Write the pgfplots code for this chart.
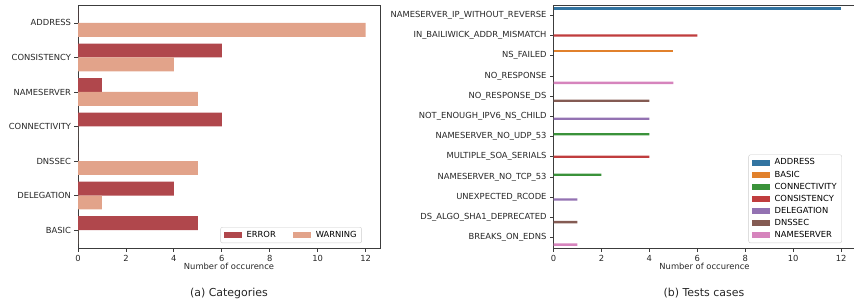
\documentclass[border=0pt]{standalone}
\usepackage{pgfplots}
\pgfplotsset{compat=1.18}
\usepackage{fontspec}
\setmainfont{DejaVu Sans}
\definecolor{errc}{RGB}{176,71,76}
\definecolor{warnc}{RGB}{226,163,138}
\definecolor{cA}{HTML}{3274A1}
\definecolor{cB}{HTML}{E1812C}
\definecolor{cC}{HTML}{3A923A}
\definecolor{cD}{HTML}{C03D3E}
\definecolor{cE}{HTML}{9372B2}
\definecolor{cF}{HTML}{845B53}
\definecolor{cG}{HTML}{D684BD}
\definecolor{spine}{RGB}{60,60,60}
\pgfplotsset{
  common/.style={
    scale only axis, width=302bp, height=243bp,
    xbar, bar shift=0pt,
    xmin=0, xmax=12.6,
    xtick={0,2,...,12},
    axis line style={spine, line width=0.8bp},
    tick style={spine, line width=0.8bp},
    tick align=outside, major tick length=3.5bp,
    xtick pos=bottom, ytick pos=left,
    y dir=reverse,
    ticklabel style={font=\fontsize{8.4}{10}\selectfont, text=black!85},
    /pgf/number format/assume math mode=true,
    xlabel={Number of occurence},
    xlabel style={font=\fontsize{8.4}{10}\selectfont, text=black!85, at={(axis description cs:0.5,0)}, anchor=center, yshift=-18bp},
    legend image code/.code={\fill[##1, draw=none, sharp corners] (0bp,-3bp) rectangle (18bp,3bp);},
    legend cell align=left,
  },
}
\begin{document}
\begin{tikzpicture}
\path[use as bounding box] (0bp,0bp) rectangle (854bp,306bp);
\begin{axis}[common,
  at={(78bp,58bp)}, anchor=south west,
  ymin=-0.52, ymax=6.52,
  ytick={0,1,2,3,4,5,6},
  yticklabels={ADDRESS,CONSISTENCY,NAMESERVER,CONNECTIVITY,DNSSEC,DELEGATION,BASIC},
  bar width=0.4,
  legend columns=2,
  legend style={at={(0.94,0.02)}, anchor=south east, font=\fontsize{8.4}{10}\selectfont,
    draw=black!20, rounded corners=2bp, fill=white, inner xsep=3bp, inner ysep=2bp,
    /tikz/every odd column/.append style={column sep=3bp},
    /tikz/every even column/.append style={column sep=15bp}},
]
\addplot[fill=errc, draw=none] coordinates {(0,-0.2) (6,0.8) (1,1.8) (6,2.8) (0,3.8) (4,4.8) (5,5.8)};
\addplot[fill=warnc, draw=none] coordinates {(12,0.2) (4,1.2) (5,2.2) (0,3.2) (5,4.2) (1,5.2) (0,6.2)};
\legend{ERROR,WARNING}
\end{axis}
\begin{axis}[common,
  at={(553.5bp,58bp)}, anchor=south west,
  ymin=-0.51, ymax=11.51,
  ytick={0,...,11},
  yticklabels={NAMESERVER\_IP\_WITHOUT\_REVERSE,IN\_BAILIWICK\_ADDR\_MISMATCH,NS\_FAILED,NO\_RESPONSE,NO\_RESPONSE\_DS,NOT\_ENOUGH\_IPV6\_NS\_CHILD,NAMESERVER\_NO\_UDP\_53,MULTIPLE\_SOA\_SERIALS,NAMESERVER\_NO\_TCP\_53,UNEXPECTED\_RCODE,DS\_ALGO\_SHA1\_DEPRECATED,BREAKS\_ON\_EDNS},
  bar width=0.1143,
  legend style={at={(0.955,0.02)}, anchor=south east, font=\fontsize{8.4}{10}\selectfont,
    draw=black!20, rounded corners=2bp, fill=white, inner xsep=3bp, inner ysep=2bp,
    row sep=0.4bp, /tikz/every odd column/.append style={column sep=3bp}},
]
\addplot[fill=cA, draw=none] coordinates {(12,-0.3429)};
\addplot[fill=cB, draw=none] coordinates {(5,1.7714)};
\addplot[fill=cC, draw=none] coordinates {(4,5.8857) (2,7.8857)};
\addplot[fill=cD, draw=none] coordinates {(6,1) (4,7)};
\addplot[fill=cE, draw=none] coordinates {(4,5.1143) (1,9.1143)};
\addplot[fill=cF, draw=none] coordinates {(4,4.2286) (1,10.2286)};
\addplot[fill=cG, draw=none] coordinates {(5,3.3429) (1,11.3429)};
\legend{ADDRESS,BASIC,CONNECTIVITY,CONSISTENCY,DELEGATION,DNSSEC,NAMESERVER}
\end{axis}
\node[font=\fontsize{11}{13}\selectfont, text=black!85] at (229bp,13bp) {(a) Categories};
\node[font=\fontsize{11}{13}\selectfont, text=black!85] at (704bp,13bp) {(b) Tests cases};
\end{tikzpicture}
\end{document}
